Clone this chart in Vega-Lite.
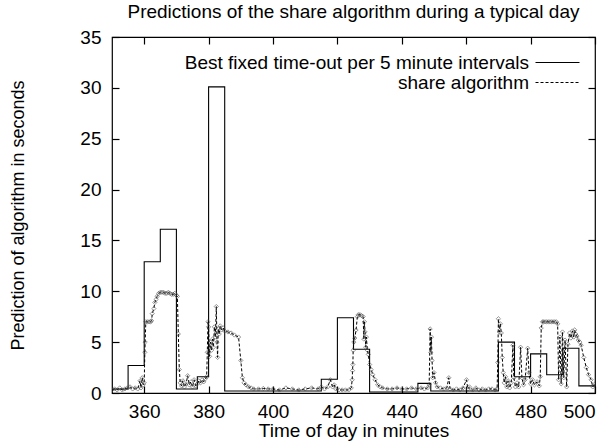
{
  "$schema": "https://vega.github.io/schema/vega-lite/v6.json",
  "width": 483,
  "height": 356,
  "autosize": {"type": "none"},
  "padding": {"left": 112, "top": 37, "right": 15, "bottom": 49},
  "background": "white",
  "config": {
    "font": "Liberation Sans",
    "view": {"stroke": "black", "strokeWidth": 1.2},
    "axis": {"grid": false, "domain": false, "labelFont": "Liberation Sans", "titleFont": "Liberation Sans", "labelFontSize": 19, "titleFontSize": 19, "labelColor": "black", "titleColor": "black", "titleFontWeight": "normal", "tickColor": "black", "tickWidth": 1.2}
  },
  "title": {"text": "Predictions of the share algorithm during a typical day", "fontSize": 19, "fontWeight": "normal", "font": "Liberation Sans", "color": "black", "offset": 6, "anchor": "middle"},
  "datasets": {
    "best": [
      {"t": 350, "v": 0.4, "series": "Best fixed time-out per 5 minute intervals"},
      {"t": 355, "v": 2.7, "series": "Best fixed time-out per 5 minute intervals"},
      {"t": 360, "v": 12.9, "series": "Best fixed time-out per 5 minute intervals"},
      {"t": 365, "v": 16.1, "series": "Best fixed time-out per 5 minute intervals"},
      {"t": 370, "v": 0.4, "series": "Best fixed time-out per 5 minute intervals"},
      {"t": 376.5, "v": 1.6, "series": "Best fixed time-out per 5 minute intervals"},
      {"t": 380, "v": 30.1, "series": "Best fixed time-out per 5 minute intervals"},
      {"t": 385, "v": 0.2, "series": "Best fixed time-out per 5 minute intervals"},
      {"t": 415, "v": 1.35, "series": "Best fixed time-out per 5 minute intervals"},
      {"t": 420, "v": 7.4, "series": "Best fixed time-out per 5 minute intervals"},
      {"t": 425, "v": 4.3, "series": "Best fixed time-out per 5 minute intervals"},
      {"t": 430, "v": 0.1, "series": "Best fixed time-out per 5 minute intervals"},
      {"t": 445, "v": 0.95, "series": "Best fixed time-out per 5 minute intervals"},
      {"t": 449, "v": 0.2, "series": "Best fixed time-out per 5 minute intervals"},
      {"t": 470, "v": 5.0, "series": "Best fixed time-out per 5 minute intervals"},
      {"t": 475, "v": 1.6, "series": "Best fixed time-out per 5 minute intervals"},
      {"t": 480, "v": 3.85, "series": "Best fixed time-out per 5 minute intervals"},
      {"t": 485, "v": 1.8, "series": "Best fixed time-out per 5 minute intervals"},
      {"t": 490, "v": 4.4, "series": "Best fixed time-out per 5 minute intervals"},
      {"t": 495, "v": 0.7, "series": "Best fixed time-out per 5 minute intervals"},
      {"t": 500, "v": 0.7, "series": "Best fixed time-out per 5 minute intervals"}
    ],
    "share": [
      {"t": 350, "v": 0.3}, {"t": 350.8, "v": 0.4}, {"t": 351.6, "v": 0.3}, {"t": 352.4, "v": 0.5}, {"t": 353.2, "v": 0.3},
      {"t": 354, "v": 0.4}, {"t": 354.8, "v": 0.5}, {"t": 355.6, "v": 0.6}, {"t": 356.4, "v": 0.4}, {"t": 357.2, "v": 0.5},
      {"t": 358, "v": 0.4}, {"t": 358.7, "v": 1.2}, {"t": 359, "v": 0.5}, {"t": 359.4, "v": 1.5}, {"t": 359.7, "v": 0.8},
      {"t": 360, "v": 1.0}, {"t": 360.2, "v": 4.0}, {"t": 360.3, "v": 5.0}, {"t": 360.5, "v": 7.0}, {"t": 361, "v": 7.0},
      {"t": 361.5, "v": 7.0}, {"t": 362, "v": 7.0}, {"t": 362.3, "v": 7.1}, {"t": 362.5, "v": 7.8}, {"t": 363, "v": 8.3},
      {"t": 363.3, "v": 8.9}, {"t": 363.7, "v": 9.2}, {"t": 364, "v": 9.5}, {"t": 364.5, "v": 9.8}, {"t": 365, "v": 9.9},
      {"t": 365.5, "v": 9.9}, {"t": 366, "v": 9.9}, {"t": 366.5, "v": 9.8}, {"t": 367, "v": 9.8}, {"t": 367.5, "v": 9.9},
      {"t": 368, "v": 9.8}, {"t": 368.5, "v": 9.7}, {"t": 369, "v": 9.7}, {"t": 369.5, "v": 9.8}, {"t": 370, "v": 9.6},
      {"t": 370.3, "v": 9.5}, {"t": 370.6, "v": 5.8}, {"t": 370.9, "v": 2.3}, {"t": 371.2, "v": 1.0}, {"t": 371.6, "v": 0.7},
      {"t": 372, "v": 1.2}, {"t": 372.5, "v": 0.6}, {"t": 373, "v": 0.9}, {"t": 373.5, "v": 1.7}, {"t": 374, "v": 0.8},
      {"t": 374.5, "v": 1.1}, {"t": 375, "v": 0.6}, {"t": 375.5, "v": 1.3}, {"t": 376, "v": 0.7}, {"t": 376.5, "v": 0.9},
      {"t": 377, "v": 1.2}, {"t": 377.5, "v": 1.0}, {"t": 378, "v": 1.3}, {"t": 378.5, "v": 1.1}, {"t": 379, "v": 1.4},
      {"t": 379.4, "v": 1.6}, {"t": 379.6, "v": 4.0}, {"t": 379.8, "v": 7.0}, {"t": 380, "v": 6.5}, {"t": 380.3, "v": 3.6},
      {"t": 380.6, "v": 5.0}, {"t": 380.9, "v": 4.2}, {"t": 381.2, "v": 5.3}, {"t": 381.5, "v": 4.5}, {"t": 381.8, "v": 6.5},
      {"t": 382.1, "v": 5.5}, {"t": 382.4, "v": 8.5}, {"t": 382.6, "v": 5.0}, {"t": 382.8, "v": 3.5}, {"t": 383, "v": 6.3},
      {"t": 383.3, "v": 5.8}, {"t": 383.6, "v": 6.6}, {"t": 384, "v": 6.2}, {"t": 384.5, "v": 6.4}, {"t": 385, "v": 6.1},
      {"t": 386, "v": 6.0}, {"t": 387, "v": 5.9}, {"t": 388, "v": 5.7}, {"t": 389.3, "v": 5.5}, {"t": 390, "v": 3.2},
      {"t": 390.5, "v": 1.5}, {"t": 391, "v": 1.0}, {"t": 391.6, "v": 0.8}, {"t": 392.4, "v": 0.6}, {"t": 393.2, "v": 0.5},
      {"t": 394, "v": 0.4}, {"t": 395.5, "v": 0.4}, {"t": 397, "v": 0.45}, {"t": 398.5, "v": 0.4}, {"t": 400, "v": 0.4},
      {"t": 402, "v": 0.3}, {"t": 404, "v": 0.5}, {"t": 406, "v": 0.4}, {"t": 408, "v": 0.3}, {"t": 410, "v": 0.4},
      {"t": 412, "v": 0.5}, {"t": 414, "v": 0.4}, {"t": 415, "v": 0.6}, {"t": 416, "v": 0.4}, {"t": 417, "v": 0.6},
      {"t": 417.8, "v": 1.3}, {"t": 418.5, "v": 0.6}, {"t": 419, "v": 0.8}, {"t": 419.5, "v": 0.4}, {"t": 420.5, "v": 0.3},
      {"t": 421.5, "v": 0.3}, {"t": 422.5, "v": 0.3}, {"t": 423.5, "v": 0.3}, {"t": 424.3, "v": 0.5}, {"t": 424.6, "v": 1.3},
      {"t": 424.7, "v": 2.2}, {"t": 424.8, "v": 2.8}, {"t": 424.9, "v": 4.2}, {"t": 425.1, "v": 5.0}, {"t": 425.4, "v": 5.4},
      {"t": 425.8, "v": 6.2}, {"t": 426.2, "v": 7.5}, {"t": 426.5, "v": 7.7}, {"t": 427, "v": 7.7}, {"t": 427.5, "v": 7.6},
      {"t": 428, "v": 7.5}, {"t": 428.2, "v": 5.3}, {"t": 428.4, "v": 7.0}, {"t": 428.6, "v": 6.0}, {"t": 428.8, "v": 4.5},
      {"t": 429, "v": 5.5}, {"t": 429.3, "v": 4.2}, {"t": 429.6, "v": 3.8}, {"t": 430, "v": 2.8}, {"t": 430.5, "v": 2.3},
      {"t": 431, "v": 1.8}, {"t": 431.7, "v": 1.3}, {"t": 432.5, "v": 0.8}, {"t": 433.3, "v": 0.6}, {"t": 434, "v": 0.5},
      {"t": 435.5, "v": 0.4}, {"t": 437, "v": 0.4}, {"t": 438.5, "v": 0.5}, {"t": 440, "v": 0.4}, {"t": 441.5, "v": 0.4},
      {"t": 443, "v": 0.5}, {"t": 444.5, "v": 0.4}, {"t": 446, "v": 0.5}, {"t": 447, "v": 0.4}, {"t": 448, "v": 0.5},
      {"t": 448.5, "v": 0.8}, {"t": 448.8, "v": 6.3}, {"t": 449, "v": 4.0}, {"t": 449.2, "v": 5.5}, {"t": 449.4, "v": 3.2},
      {"t": 449.6, "v": 1.5}, {"t": 450, "v": 2.0}, {"t": 450.5, "v": 1.0}, {"t": 451, "v": 0.6}, {"t": 452, "v": 0.5},
      {"t": 453, "v": 0.4}, {"t": 454, "v": 0.5}, {"t": 454.6, "v": 1.5}, {"t": 455, "v": 0.4}, {"t": 456, "v": 0.3},
      {"t": 457, "v": 0.4}, {"t": 458, "v": 0.3}, {"t": 459, "v": 0.5}, {"t": 460.1, "v": 1.3}, {"t": 460.5, "v": 0.4},
      {"t": 461, "v": 0.6}, {"t": 462, "v": 0.3}, {"t": 463, "v": 0.5}, {"t": 464, "v": 0.3}, {"t": 465, "v": 0.4},
      {"t": 466, "v": 0.3}, {"t": 467, "v": 0.4}, {"t": 468, "v": 0.4}, {"t": 469, "v": 0.3}, {"t": 469.6, "v": 0.4},
      {"t": 469.8, "v": 3.0}, {"t": 470, "v": 7.3}, {"t": 470.3, "v": 6.0}, {"t": 470.6, "v": 6.8}, {"t": 470.9, "v": 5.9},
      {"t": 471.2, "v": 3.5}, {"t": 471.5, "v": 2.0}, {"t": 471.8, "v": 1.0}, {"t": 472.2, "v": 1.6}, {"t": 472.6, "v": 0.6},
      {"t": 473, "v": 1.2}, {"t": 473.5, "v": 0.5}, {"t": 474, "v": 1.0}, {"t": 474.5, "v": 4.7}, {"t": 474.8, "v": 1.5},
      {"t": 475.3, "v": 0.6}, {"t": 475.8, "v": 1.0}, {"t": 476.3, "v": 0.6}, {"t": 476.9, "v": 4.5}, {"t": 477.3, "v": 1.5},
      {"t": 477.8, "v": 0.8}, {"t": 478.3, "v": 1.3}, {"t": 479.1, "v": 4.4}, {"t": 479.5, "v": 2.0}, {"t": 480, "v": 0.9},
      {"t": 480.6, "v": 1.3}, {"t": 481.2, "v": 0.8}, {"t": 482, "v": 1.1}, {"t": 482.7, "v": 0.7}, {"t": 483, "v": 1.6},
      {"t": 483.3, "v": 6.4}, {"t": 483.7, "v": 7.0}, {"t": 484, "v": 7.0}, {"t": 484.5, "v": 7.0}, {"t": 485, "v": 7.0},
      {"t": 485.5, "v": 7.0}, {"t": 486, "v": 7.0}, {"t": 486.5, "v": 7.0}, {"t": 487, "v": 7.0}, {"t": 487.5, "v": 7.0},
      {"t": 488, "v": 7.0}, {"t": 488.4, "v": 6.8}, {"t": 488.7, "v": 1.3}, {"t": 489.1, "v": 5.5}, {"t": 489.5, "v": 0.9},
      {"t": 489.9, "v": 6.0}, {"t": 490.3, "v": 1.5}, {"t": 490.7, "v": 5.2}, {"t": 491.2, "v": 0.6}, {"t": 491.6, "v": 4.8},
      {"t": 492.1, "v": 5.9}, {"t": 492.5, "v": 5.4}, {"t": 493, "v": 6.1}, {"t": 493.4, "v": 5.5}, {"t": 493.7, "v": 6.2},
      {"t": 494, "v": 5.8}, {"t": 494.4, "v": 5.6}, {"t": 494.8, "v": 5.2}, {"t": 495.3, "v": 5.0}, {"t": 495.7, "v": 4.7},
      {"t": 496.5, "v": 3.5}, {"t": 497.3, "v": 2.5}, {"t": 498, "v": 1.8}, {"t": 498.8, "v": 1.3}, {"t": 499.3, "v": 0.6},
      {"t": 500, "v": 0.9}
    ]
  },
  "layer": [
    {
      "data": {"name": "best"},
      "mark": {"type": "line", "interpolate": "step-after", "color": "black", "strokeWidth": 1.1, "clip": true},
      "encoding": {
        "x": {"field": "t", "type": "quantitative", "scale": {"domain": [350, 500], "nice": false, "zero": false},
              "axis": {"orient": "bottom", "values": [360, 380, 400, 420, 440, 460, 480, 500], "tickSize": -7, "labelPadding": 16, "title": "Time of day in minutes", "titlePadding": 0}},
        "y": {"field": "v", "type": "quantitative", "scale": {"domain": [0, 35], "nice": false},
              "axis": {"orient": "left", "values": [0, 5, 10, 15, 20, 25, 30, 35], "tickSize": -7, "labelPadding": 18, "title": "Prediction of algorithm in seconds", "titleFontSize": 18, "titlePadding": 52}},
        "strokeDash": {"field": "series", "type": "nominal",
          "scale": {"domain": ["Best fixed time-out per 5 minute intervals", "share algorithm"], "range": [[1, 0], [3, 2]]},
          "legend": {"title": null, "orient": "none", "legendX": 436, "legendY": 16, "symbolType": "M-4,0H4", "symbolSize": 121, "symbolStrokeColor": "black", "symbolStrokeWidth": 1.1, "symbolFillColor": "transparent", "labelAlign": "right", "labelOffset": -38, "labelFontSize": 19, "labelFont": "Liberation Sans", "labelColor": "black", "labelLimit": 500, "padding": 0, "rowPadding": 0}}
      }
    },
    {
      "data": {"name": "share"},
      "transform": [{"calculate": "'share algorithm'", "as": "series"}],
      "mark": {"type": "line", "color": "black", "strokeWidth": 1, "clip": true},
      "encoding": {
        "x": {"field": "t", "type": "quantitative", "axis": null},
        "y": {"field": "v", "type": "quantitative", "axis": null},
        "strokeDash": {"field": "series", "type": "nominal"}
      }
    },
    {
      "data": {"name": "share"},
      "mark": {"type": "point", "shape": "diamond", "filled": false, "size": 18, "color": "#444", "strokeWidth": 0.8, "clip": true},
      "encoding": {
        "x": {"field": "t", "type": "quantitative", "axis": {"orient": "top", "values": [360, 380, 400, 420, 440, 460, 480, 500], "tickSize": -7, "labels": false, "title": null}},
        "y": {"field": "v", "type": "quantitative", "axis": {"orient": "right", "values": [0, 5, 10, 15, 20, 25, 30, 35], "tickSize": -7, "labels": false, "title": null}}
      }
    }
  ],
  "resolve": {"axis": {"x": "independent", "y": "independent"}}
}
